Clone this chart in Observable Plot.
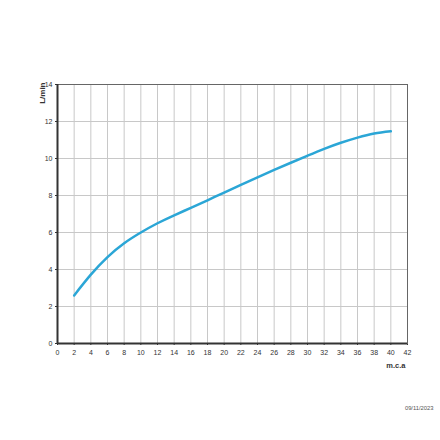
<!DOCTYPE html>
<html>
<head>
<meta charset="utf-8">
<script src="https://cdn.jsdelivr.net/npm/d3@7"></script>
<script src="https://cdn.jsdelivr.net/npm/@observablehq/plot@0.6"></script>
<style>
  html, body { margin: 0; padding: 0; background: #fff; }
  #chart { width: 440px; height: 440px; }
</style>
</head>
<body>
<div id="chart"></div>
<script>
const pressure = [2, 4, 6, 8, 10, 12, 14, 16, 18, 20, 22, 24, 26, 28, 30, 32, 34, 36, 38, 40];
const flow = [2.6, 3.72, 4.67, 5.42, 6.0, 6.5, 6.93, 7.33, 7.74, 8.16, 8.57, 8.98, 9.38, 9.77, 10.15, 10.52, 10.85, 11.13, 11.35, 11.47];
const xTicks = d3.range(0, 43, 2);
const yTicks = d3.range(0, 15, 2);
const yLabel = "L/min";
const xLabel = "m.c.a";
const dateLabel = "09/11/2023";

const data = pressure.map((p, i) => ({p, q: flow[i]}));

const chart = Plot.plot({
  width: 440,
  height: 440,
  marginLeft: 57,
  marginRight: 33,
  marginTop: 84,
  marginBottom: 97,
  style: {fontFamily: "'Liberation Sans', Arial, sans-serif", fontSize: "7px", color: "#333", background: "#fff"},
  x: {domain: [0, 42], ticks: xTicks, label: null},
  y: {domain: [0, 14], ticks: yTicks, label: null},
  marks: [
    Plot.gridX(xTicks, {stroke: "#c8c8c8", strokeOpacity: 1, strokeWidth: 1}),
    Plot.gridY(yTicks, {stroke: "#c8c8c8", strokeOpacity: 1, strokeWidth: 1}),
    Plot.axisX(xTicks, {tickSize: 2, tickPadding: 5, fontSize: 7}),
    Plot.axisY(yTicks, {tickSize: 2, tickPadding: 3, fontSize: 7}),
    Plot.frame({stroke: "#666", strokeWidth: 1}),
    Plot.ruleX([0], {stroke: "#333", strokeWidth: 2}),
    Plot.ruleY([0], {stroke: "#333", strokeWidth: 2}),
    Plot.line(data, {x: "p", y: "q", curve: "natural", stroke: "#2ba6d6", strokeWidth: 2.5}),
    Plot.text([yLabel], {frameAnchor: "top-left", rotate: -90, textAnchor: "end", dx: -18, dy: -2, fontWeight: "bold", fontSize: 8, fill: "#333"}),
    Plot.text([xLabel], {frameAnchor: "bottom-right", textAnchor: "end", dx: -2, dy: 24, fontWeight: "bold", fontSize: 7.5, fill: "#333"}),
    Plot.text([dateLabel], {frameAnchor: "bottom-right", textAnchor: "end", dx: 26, dy: 66, fontSize: 5.8, fill: "#555"})
  ]
});
document.getElementById("chart").appendChild(chart);
</script>
</body>
</html>
